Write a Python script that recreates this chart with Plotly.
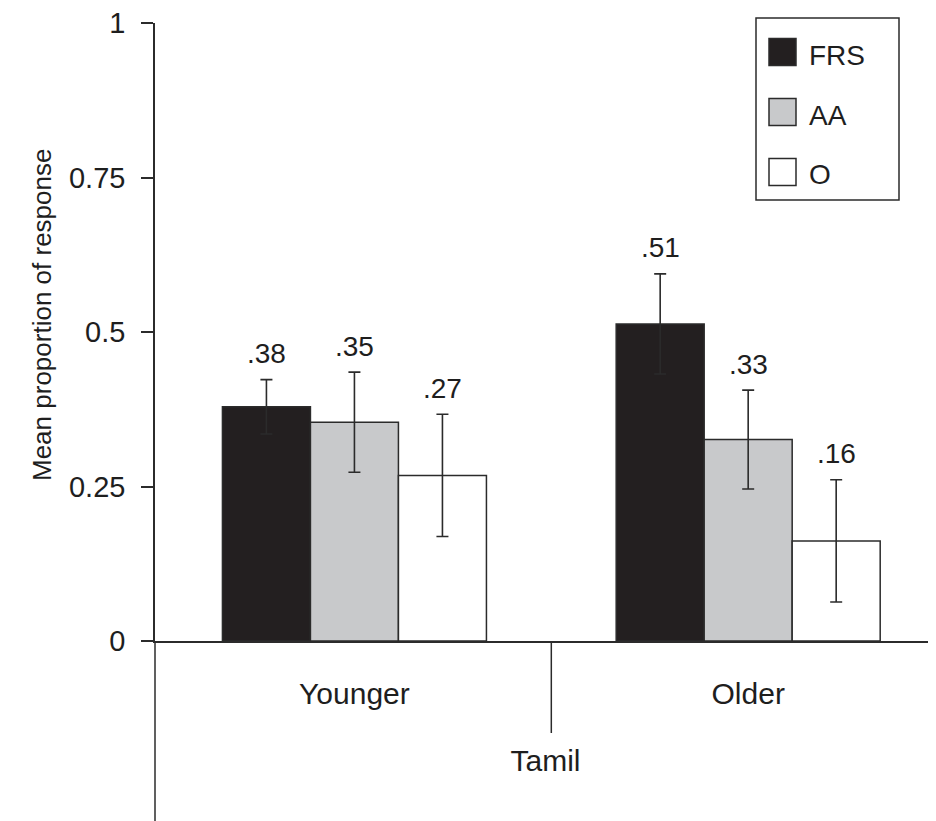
import plotly.graph_objects as go

# ---- data ----
groups = ["Younger", "Older"]
series_names = ["FRS", "AA", "O"]
frs_vals = [0.379, 0.513]
aa_vals = [0.354, 0.326]
o_vals = [0.268, 0.162]
frs_err = [0.044, 0.081]
aa_err = [0.081, 0.080]
o_err = [0.099, 0.099]
y_ticks = [0, 0.25, 0.5, 0.75, 1]
y_ticktext = ["0", "0.25", "0.5", "0.75", "1"]
x_title = "Tamil"
y_title = "Mean proportion of response"

values = [frs_vals, aa_vals, o_vals]
errors = [frs_err, aa_err, o_err]
fills = ["#231f20", "#c8c9cb", "#ffffff"]
edge = "#2b2b2b"
TXT = "#1e1e1e"
FONT = "Liberation Sans, Arial, Helvetica, sans-serif"

# page has an 8px body margin; work in page pixels and convert
OFF = 8
W, H = 936 - OFF, 821 - OFF
ML, MR, MT = 155 - OFF, 0, 23 - OFF
MB = H - (641 - OFF)
bargap = 0.3295
bar_w = (1 - bargap) / len(series_names)

fig = go.Figure()
for name, vals, errs, col in zip(series_names, values, errors, fills):
    fig.add_trace(go.Bar(
        name=name, x=groups, y=vals,
        marker=dict(color=col, line=dict(color=edge, width=1.5)),
        error_y=dict(type="data", array=errs, color=edge, thickness=1.6, width=6),
        showlegend=False,
    ))

# value labels above the error bars
for si, (vals, errs) in enumerate(zip(values, errors)):
    for gi, (v, e) in enumerate(zip(vals, errs)):
        fig.add_annotation(
            x=gi + (si - 1) * bar_w, y=v + e + 0.042, xref="x", yref="y",
            text=f"{v:.2f}".lstrip("0"), showarrow=False,
            font=dict(size=28, color=TXT, family=FONT),
            xanchor="center", yanchor="middle",
        )

plot_w = W - ML - MR
plot_h = H - MT - MB


def px_x(px):
    return (px - OFF - ML) / plot_w


def px_y(py):
    return (H - MB - (py - OFF)) / plot_h


# y axis extension below zero and group separator
fig.add_shape(type="line", xref="paper", yref="paper", x0=0, x1=0,
              y0=0, y1=px_y(821), line=dict(color=edge, width=1.5))
fig.add_shape(type="line", xref="x", yref="paper", x0=0.5, x1=0.5,
              y0=0, y1=px_y(733), line=dict(color=edge, width=1.5))

# y axis title
fig.add_annotation(x=px_x(42), y=px_y(315), xref="paper", yref="paper",
                   text=y_title, textangle=-90, showarrow=False,
                   font=dict(size=26, color=TXT, family=FONT),
                   xanchor="center", yanchor="middle")

# legend (boxed, large swatches)
fig.add_shape(type="rect", xref="paper", yref="paper",
              x0=px_x(756), x1=px_x(899), y0=px_y(200), y1=px_y(18),
              line=dict(color=edge, width=1.5), fillcolor="white")
row_gap = 60
for i, (name, col) in enumerate(zip(series_names, fills)):
    cy = 52 + i * row_gap
    fig.add_shape(type="rect", xref="paper", yref="paper",
                  x0=px_x(769), x1=px_x(796), y0=px_y(cy + 13.5), y1=px_y(cy - 13.5),
                  line=dict(color=edge, width=1.5), fillcolor=col)
    fig.add_annotation(x=px_x(807), y=px_y(cy + 3), xref="paper", yref="paper",
                       text=name, showarrow=False,
                       font=dict(size=28, color=TXT, family=FONT),
                       xanchor="left", yanchor="middle")

fig.update_layout(
    width=W, height=H,
    margin=dict(l=ML, r=MR, t=MT, b=MB, autoexpand=False),
    paper_bgcolor="white", plot_bgcolor="white",
    barmode="group", bargap=bargap, bargroupgap=0,
    font=dict(family=FONT, size=28, color=TXT),
)
fig.update_xaxes(
    range=[-0.5065, 1.477], showgrid=False, zeroline=False,
    showline=True, linecolor=edge, linewidth=1.5,
    ticks="", tickfont=dict(size=30, family=FONT, color=TXT),
    ticklabelstandoff=25,
    title=dict(text=x_title, font=dict(size=30, family=FONT, color=TXT), standoff=41),
)
fig.update_yaxes(
    range=[0, 1], showgrid=False, zeroline=False,
    showline=True, linecolor=edge, linewidth=1.5,
    ticks="outside", ticklen=12, tickwidth=1.5, tickcolor=edge,
    tickvals=y_ticks, ticktext=y_ticktext,
    tickfont=dict(size=29, family=FONT, color=TXT),
    ticklabelstandoff=10, ticklabeloverflow="allow",
)

fig.write_html("out.html")
